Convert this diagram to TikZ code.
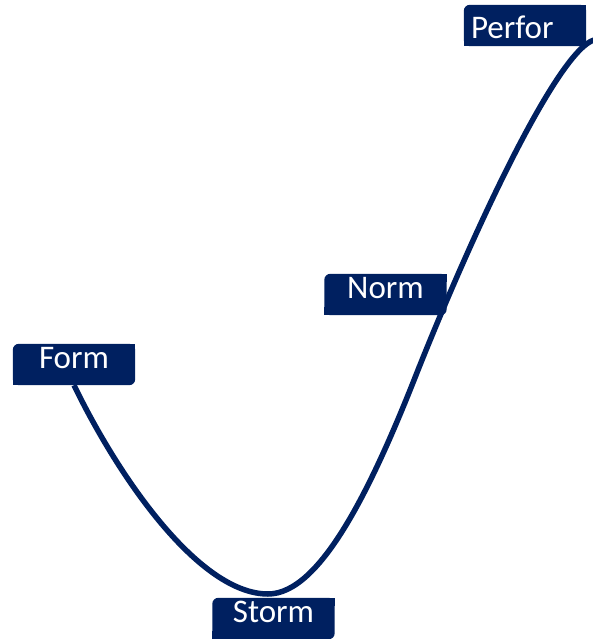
\documentclass[tikz,border=0pt]{standalone}
\usepackage{fontspec}
\setmainfont{Carlito}
\usetikzlibrary{backgrounds}
\definecolor{Navy}{RGB}{0,32,96}

\begin{document}
\begin{tikzpicture}[
  x=1pt, y=-1pt,
  stage/.style={
    text=white,
    font=\fontsize{33}{36}\selectfont,
    minimum width=122pt,
    inner xsep=0pt,
    inner ysep=0pt,
    text height=24pt,
    text depth=17pt
  },
  curve/.style={draw=Navy, line width=5.5pt}
]
\useasboundingbox (0,0) rectangle (593,639);
\node[stage] (form) at (74,364.5) {Form};
\node[stage] (storm) at (273.5,618.5) {Storm};
\node[stage] (norm) at (385.5,294.5) {Norm};
\node[stage,text width=108pt,align=left,inner xsep=7pt,
  text height=34pt,text depth=7pt] (perfor) at (525,25.5) {Perfor};

\coordinate (low) at (268,594);
\coordinate (bend) at (418,370);
\coordinate (tip) at (594,40);

\begin{scope}[on background layer]
\draw[curve] (form.south)
  .. controls (120,480) and (200,594) .. (low)
  .. controls (320,594) and (371,490) .. (bend)
  .. controls (482,210) and (560,50) .. (tip);
\foreach \n in {form,storm,norm,perfor} {
  \fill[Navy,rounded corners=6pt] (\n.south west) rectangle (\n.north east);
  \fill[Navy] (\n.north east) rectangle ++(-8,8);
  \fill[Navy] (\n.south west) rectangle ++(8,-8);
}
\end{scope}
\end{tikzpicture}
\end{document}
